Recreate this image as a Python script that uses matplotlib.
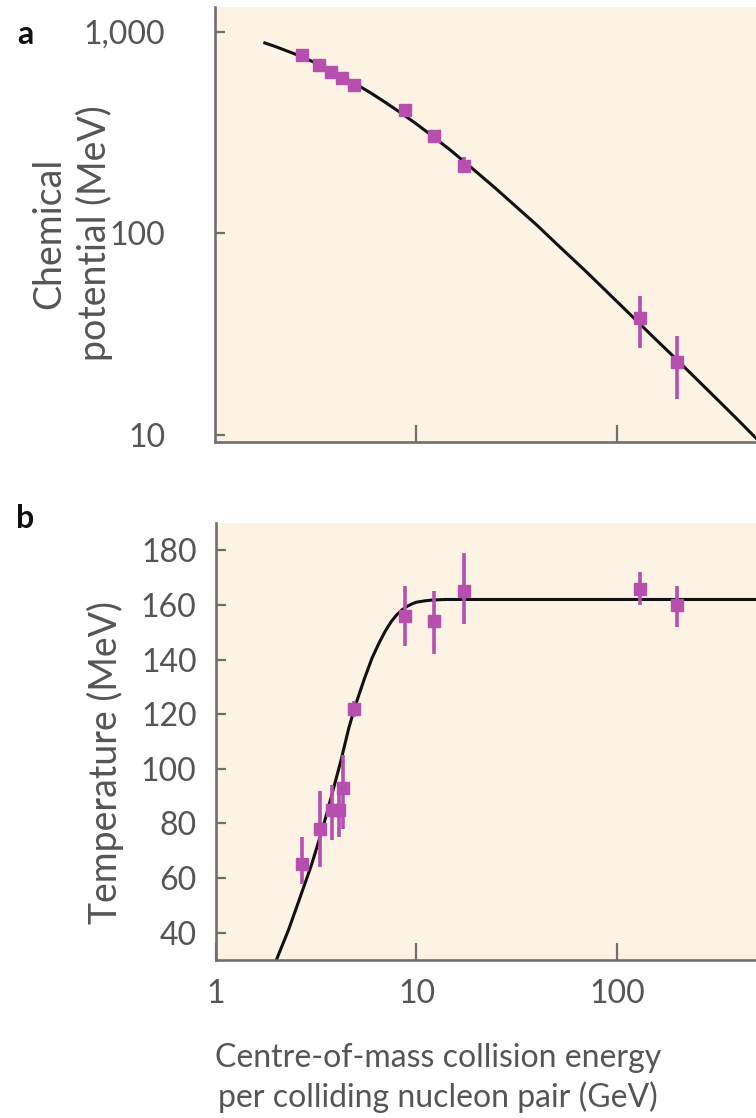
import matplotlib
matplotlib.use('Agg')
import matplotlib.pyplot as plt
from matplotlib.ticker import FixedLocator, FixedFormatter, NullLocator

plt.rcParams['font.family'] = ['Lato', 'DejaVu Sans']

# ---------------- data ----------------
# Panel a: chemical potential vs collision energy
energy_a = [2.7, 3.3, 3.8, 4.3, 4.9, 8.8, 12.3, 17.3, 130, 200]
mu_a = [765, 682, 630, 590, 546, 408, 303, 215, 38, 23]
mu_err_lo = [20, 20, 20, 20, 20, 18, 15, 15, 11, 8]
mu_err_hi = [20, 20, 20, 20, 20, 18, 15, 25, 11, 8]

curve_a_x = [1.77, 2, 2.5, 3, 3.5, 4, 5, 6, 7, 8.5, 10, 12, 15, 20, 25, 30, 40,
             50, 70, 100, 150, 200, 300, 400, 500]
curve_a_y = [882, 846, 777, 719, 669, 625, 553, 496, 449, 394, 351, 306, 257,
             202, 167, 142, 110, 89, 65, 46, 31, 23.5, 15.8, 11.9, 9.5]

# Panel b: temperature vs collision energy
energy_b = [2.7, 3.3, 3.8, 4.1, 4.3, 4.9, 8.8, 12.3, 17.3, 130, 200]
T_b = [65, 78, 85, 85, 93, 122, 156, 154, 165, 166, 160]
T_err_lo = [7, 14, 11, 10, 15, 3, 11, 12, 12, 6, 8]
T_err_hi = [10, 14, 9, 8, 12, 3, 11, 11, 14, 6, 7]

curve_b_x = [2.0, 2.3, 2.6, 3.0, 3.4, 3.8, 4.2, 4.6, 5.0, 5.5, 6.0, 6.5, 7.0,
             7.5, 8.0, 8.5, 9.0, 9.5, 10, 11, 12, 14, 20, 500]
curve_b_y = [30, 41, 52, 65, 78, 91, 103, 115, 124, 133, 140.5, 146, 150.5,
             154, 156.5, 158.3, 159.5, 160.4, 161, 161.5, 161.8, 162, 162, 162]

yticks_a = [10, 100, 1000]
yticklabels_a = ['10', '100', '1,000']
xticks_a = [10, 100]
xticks_b = [1, 10, 100]
xticklabels_b = ['1', '10', '100']
yticks_b = [40, 60, 80, 100, 120, 140, 160, 180]

# ---------------- style ----------------
W, H = 756, 1118
bg = '#FDF3E4'
spine_c = '#6F6F6F'
mark_c = '#B64FAE'
text_c = '#555555'

fig = plt.figure(figsize=(W / 100, H / 100), dpi=100)
fig.patch.set_facecolor('white')


def px_axes(left, top, right, bottom):
    return fig.add_axes([left / W, 1 - bottom / H, (right - left) / W, (bottom - top) / H])


def style(ax, ypad, xpad):
    ax.set_facecolor(bg)
    for s in ['top', 'right']:
        ax.spines[s].set_visible(False)
    for s in ['left', 'bottom']:
        ax.spines[s].set_color(spine_c)
        ax.spines[s].set_linewidth(1.9)
    ax.tick_params(axis='both', which='both', direction='in', colors=spine_c,
                   labelcolor=text_c, labelsize=23, width=1.6)
    ax.tick_params(axis='y', which='both', length=7, pad=ypad)
    ax.tick_params(axis='x', which='both', length=12, pad=xpad)


# Panel a
ax_a = px_axes(215, 7, 757, 442)
ax_a.set_xscale('log')
ax_a.set_yscale('log')
ax_a.set_xlim(1, 500)
ax_a.set_ylim(9.2, 1330)
ax_a.plot(curve_a_x, curve_a_y, color='#111111', lw=2.2, zorder=2, clip_on=False)
ax_a.errorbar(energy_a, mu_a, yerr=[mu_err_lo, mu_err_hi], fmt='s', color=mark_c,
              ms=8.5, elinewidth=2.6, capsize=0, zorder=3)
ax_a.xaxis.set_major_locator(FixedLocator(xticks_a))
ax_a.xaxis.set_minor_locator(NullLocator())
ax_a.xaxis.set_major_formatter(FixedFormatter(['', '']))
ax_a.yaxis.set_major_locator(FixedLocator(yticks_a))
ax_a.yaxis.set_major_formatter(FixedFormatter(yticklabels_a))
ax_a.yaxis.set_minor_locator(NullLocator())
style(ax_a, 36, 14)

# Panel b
ax_b = px_axes(216, 523, 757, 960)
ax_b.set_xscale('log')
ax_b.set_xlim(1, 500)
ax_b.set_ylim(30, 190)
ax_b.plot(curve_b_x, curve_b_y, color='#111111', lw=2.2, zorder=2)
ax_b.errorbar(energy_b, T_b, yerr=[T_err_lo, T_err_hi], fmt='s', color=mark_c,
              ms=8.5, elinewidth=2.6, capsize=0, zorder=3)
ax_b.xaxis.set_major_locator(FixedLocator(xticks_b))
ax_b.xaxis.set_major_formatter(FixedFormatter(xticklabels_b))
ax_b.xaxis.set_minor_locator(NullLocator())
ax_b.yaxis.set_major_locator(FixedLocator(yticks_b))
style(ax_b, 14, 14)


def ftext(x, y, s, **kw):
    fig.text(x / W, 1 - y / H, s, **kw)


ftext(25, 35, 'a', fontsize=23, fontweight='bold', ha='center', va='center', color='#111111')
ftext(25, 518, 'b', fontsize=23, fontweight='bold', ha='center', va='center', color='#111111')
ftext(72, 233, 'Chemical\npotential (MeV)', rotation=90, fontsize=27, ha='center',
      va='center', color=text_c, linespacing=1.3)
ftext(105, 762, 'Temperature (MeV)', rotation=90, fontsize=27, ha='center',
      va='center', color=text_c)
ftext(438, 1078, 'Centre-of-mass collision energy\nper colliding nucleon pair (GeV)',
      fontsize=23, ha='center', va='center', color=text_c, linespacing=1.35)

fig.savefig('out.png', dpi=100, facecolor='white')
